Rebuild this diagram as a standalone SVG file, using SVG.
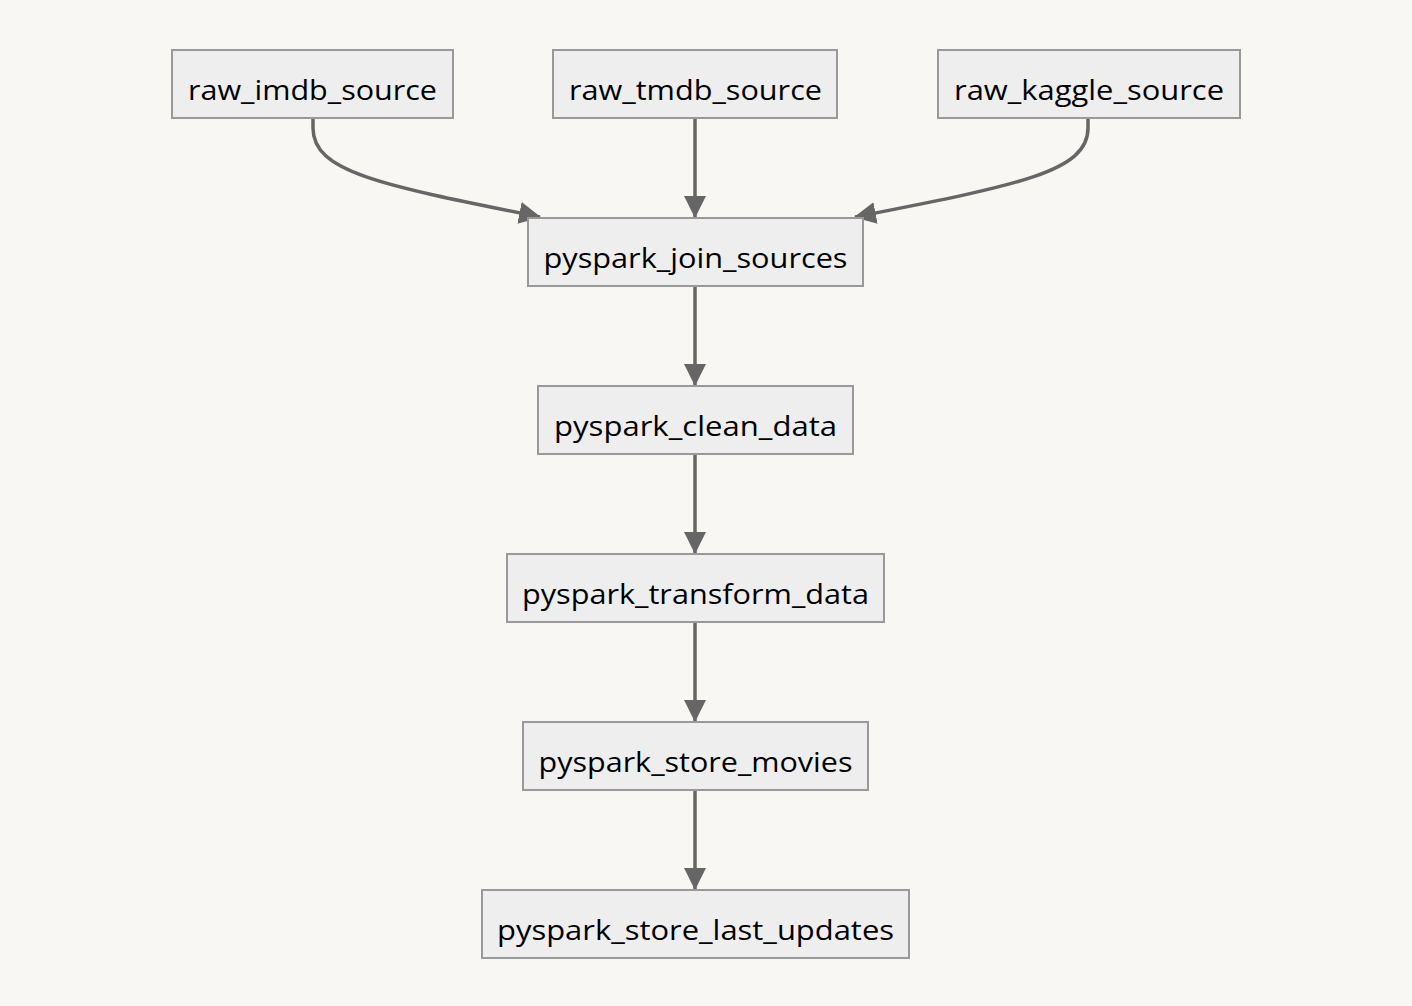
<svg xmlns="http://www.w3.org/2000/svg" width="1412" height="1006" viewBox="0 0 1412 1006">
<style>
.node rect{fill:#eeeeee;stroke:#999999;stroke-width:2}
.node text{font-family:"Open Sans","DejaVu Sans",sans-serif;font-size:28px;fill:#000;text-anchor:middle}
.edge{fill:none;stroke:#666666;stroke-width:3.5;marker-end:url(#arrow)}
</style>
<defs>
<marker id="arrow" viewBox="0 0 10 10" refX="9.5" refY="5" markerUnits="userSpaceOnUse" markerWidth="22" markerHeight="22" preserveAspectRatio="none" orient="auto">
<path d="M0,0 L10,5 L0,10 z" fill="#666666"/>
</marker>
</defs>
<rect width="1412" height="1006" fill="#f8f7f4"/>
<g id="connectors">
<path class="edge" d="M313,118 L313,128 C313,172 380,185 540,217"/>
<path class="edge" d="M695,118 L695,217"/>
<path class="edge" d="M1088,118 L1088,128 C1088,172 1018,185 855,217"/>
<path class="edge" d="M695,286 L695,385"/>
<path class="edge" d="M695,454 L695,553"/>
<path class="edge" d="M695,622 L695,721"/>
<path class="edge" d="M695,790 L695,889"/>
</g>
<g id="raw_imdb_source" class="node"><rect x="172" y="50" width="281" height="68"/><text x="312.5" y="99.5" textLength="249" lengthAdjust="spacingAndGlyphs">raw_imdb_source</text></g>
<g id="raw_tmdb_source" class="node"><rect x="553" y="50" width="284" height="68"/><text x="695.5" y="99.5" textLength="253" lengthAdjust="spacingAndGlyphs">raw_tmdb_source</text></g>
<g id="raw_kaggle_source" class="node"><rect x="938" y="50" width="302" height="68"/><text x="1089" y="99.5" textLength="270" lengthAdjust="spacingAndGlyphs">raw_kaggle_source</text></g>
<g id="pyspark_join_sources" class="node"><rect x="528" y="218" width="335" height="68"/><text x="695.5" y="267.5" textLength="304" lengthAdjust="spacingAndGlyphs">pyspark_join_sources</text></g>
<g id="pyspark_clean_data" class="node"><rect x="538" y="386" width="315" height="68"/><text x="695.5" y="435.5" textLength="283" lengthAdjust="spacingAndGlyphs">pyspark_clean_data</text></g>
<g id="pyspark_transform_data" class="node"><rect x="507" y="554" width="377" height="68"/><text x="695.5" y="603.5" textLength="347" lengthAdjust="spacingAndGlyphs">pyspark_transform_data</text></g>
<g id="pyspark_store_movies" class="node"><rect x="523" y="722" width="345" height="68"/><text x="695.5" y="771.5" textLength="314" lengthAdjust="spacingAndGlyphs">pyspark_store_movies</text></g>
<g id="pyspark_store_last_updates" class="node"><rect x="482" y="890" width="427" height="68"/><text x="695.5" y="939.5" textLength="397" lengthAdjust="spacingAndGlyphs">pyspark_store_last_updates</text></g>
</svg>
